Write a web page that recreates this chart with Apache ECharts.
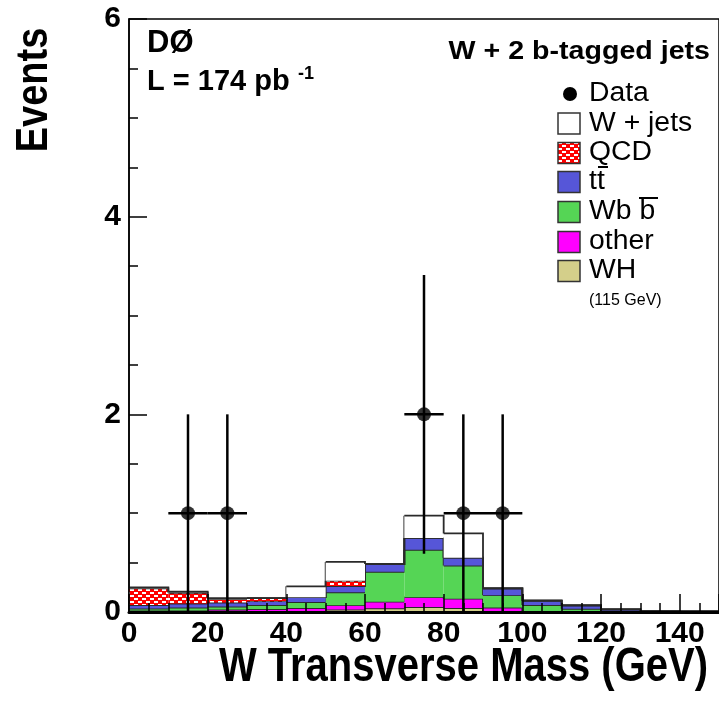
<!DOCTYPE html>
<html><head><meta charset="utf-8">
<script src="https://cdn.jsdelivr.net/npm/echarts@6/dist/echarts.min.js"></script>
<style>html,body{margin:0;padding:0;background:#fff}#c{width:719px;height:708px}</style>
</head><body><div id="c"></div>
<script>
// ---- data (W transverse mass, 10 GeV bins) ----
const binEdges = [0,10,20,30,40,50,60,70,80,90,100,110,120,130,140,150];
const whVals    = [0.005,0.005,0.01,0.01,0.01,0.025,0.037,0.05,0.04,0.01,0.0,0.0,0.0,0.0,0.0];
const otherVals = [0.01,0.01,0.015,0.02,0.03,0.044,0.067,0.10,0.095,0.035,0.005,0.003,0.0,0.0,0.0];
const wbbVals   = [0.02,0.03,0.03,0.04,0.06,0.13,0.303,0.48,0.335,0.125,0.065,0.03,0.01,0.005,0.003];
const ttVals    = [0.035,0.04,0.04,0.04,0.05,0.064,0.078,0.12,0.08,0.07,0.045,0.035,0.017,0.005,0.002];
const qcdVals   = [0.17,0.11,0.035,0.03,0.0,0.054,0.0,0.0,0.0,0.0,0.0,0.0,0.0,0.0,0.0];
const wjetsVals = [0.01,0.01,0.01,0.0,0.11,0.19,0.0,0.225,0.245,0.0,0.0,0.0,0.0,0.0,0.0];

const dataX       = [15,25,75,85,95];
const dataY       = [1,1,2,1,1];
const dataErrLow  = [1,1,1.41,1,1];
const dataErrHigh = [1,1,1.41,1,1];
const dataXErr    = [5,5,5,5,5];

const xTickInterval = 20;
const yTickInterval = 2;

const legendNames = ['Data','W + jets','QCD','tt','Wb b','other','WH'];
const legendNote = '(115 GeV)';

// ---- styles ----
const FONT = '"Liberation Sans", Arial, Helvetica, sans-serif';
const colWjets = '#ffffff', colTT = '#5656d8', colWbb = '#55d555', colOther = '#ff00ff', colWH = '#d4cf8a';

function brickPattern(){
  const c = document.createElement('canvas'); c.width = 8; c.height = 6;
  const g = c.getContext('2d');
  g.fillStyle = '#ff0000'; g.fillRect(0,0,8,6);
  g.fillStyle = '#ffffff';
  g.fillRect(2,1,4,2);
  g.fillRect(6,4,2,2); g.fillRect(0,4,2,2);
  return c;
}
const brick = brickPattern();
const colQCD = {image: brick, repeat: 'repeat'};

// stacked components, bottom to top
const comps = [
  {name:'WH', vals:whVals, fill:colWH},
  {name:'other', vals:otherVals, fill:colOther},
  {name:'Wbb', vals:wbbVals, fill:colWbb},
  {name:'tt', vals:ttVals, fill:colTT},
  {name:'QCD', vals:qcdVals, fill:colQCD},
  {name:'W + jets', vals:wjetsVals, fill:colWjets}
];
const nBins = binEdges.length - 1;
let base = new Array(nBins).fill(0);
const histSeries = comps.map((c, k) => {
  const top = base.map((b,i)=> b + c.vals[i]);
  const rows = [];
  for (let i = 0; i < nBins; i++) {
    const nextTop = i < nBins-1 ? top[i+1] : top[i];
    rows.push([binEdges[i], binEdges[i+1], base[i], top[i], nextTop]);
  }
  base = top;
  const fill = c.fill;
  return {
    name:c.name, type:'custom', z:2+k*0.01, silent:true, data:rows,
    encode:{x:[0,1], y:[2,3]},
    renderItem:function(params, api){
      const x0 = api.value(0), x1 = api.value(1), b = api.value(2), t = api.value(3), nt = api.value(4);
      const p0 = api.coord([x0, b]), p1 = api.coord([x1, t]), pn = api.coord([x1, nt]);
      const children = [];
      if (t > b) {
        children.push({type:'rect', shape:{x:p0[0], y:p1[1], width:p1[0]-p0[0], height:p0[1]-p1[1]}, style:{fill:fill}});
      }
      children.push({type:'polyline', shape:{points:[[p0[0], p1[1]], [p1[0], p1[1]], [pn[0], pn[1]]]}, style:{stroke:'#2a2a2a', lineWidth:1.8, fill:null}});
      return {type:'group', children};
    }
  };
});

const chart = echarts.init(document.getElementById('c'), null, {renderer:'canvas'});
const pointData = dataX.map((x,i)=>[x, dataY[i], dataErrLow[i], dataErrHigh[i], dataXErr[i]]);

const legendRows = [94, 123.5, 153, 182, 212, 242, 271];
const legendFills = [null, colWjets, colQCD, colTT, colWbb, colOther, colWH];
const graphics = [];
const G = (o) => { o.z = 100; graphics.push(o); };
legendNames.forEach((n,i)=>{
  const cy = legendRows[i];
  if (i === 0) {
    G({type:'circle', shape:{cx:570, cy:cy, r:7}, style:{fill:'#000'}});
  } else {
    G({type:'rect', shape:{x:558, y:cy-10.5, width:22, height:21}, style:{fill:legendFills[i], stroke:'#333', lineWidth:1.5}});
  }
  G({type:'text', x:589, y:cy, scaleX:1.05, style:{text:n, font:'normal 27px '+FONT, fill:'#000', textAlign:'left', textVerticalAlign:'middle'}});
});
G({type:'text', x:589, y:301, style:{text:legendNote, font:'normal 16px '+FONT, fill:'#000', textAlign:'left', textVerticalAlign:'middle'}});
// overbars of tt and bb
G({type:'line', shape:{x1:598, y1:167, x2:608, y2:167}, style:{stroke:'#000', lineWidth:2}});
G({type:'line', shape:{x1:639, y1:198, x2:658, y2:198}, style:{stroke:'#000', lineWidth:2}});
// labels
G({type:'text', x:147, y:43, style:{text:'DØ', font:'bold 31px '+FONT, fill:'#000', textAlign:'left', textVerticalAlign:'middle'}});
G({type:'text', x:147, y:82, style:{text:'L = 174 pb', font:'bold 29px '+FONT, fill:'#000', textAlign:'left', textVerticalAlign:'middle'}});
G({type:'text', x:298, y:74, style:{text:'-1', font:'bold 18px '+FONT, fill:'#000', textAlign:'left', textVerticalAlign:'middle'}});
G({type:'text', x:710, y:52, scaleX:1.1, style:{text:'W + 2 b-tagged jets', font:'bold 26px '+FONT, fill:'#000', textAlign:'right', textVerticalAlign:'middle'}});
// axis titles
G({type:'text', x:708, y:668, scaleY:1.2, style:{text:'W Transverse Mass (GeV)', font:'bold 40px '+FONT, fill:'#000', textAlign:'right', textVerticalAlign:'middle'}});
G({type:'text', x:35, y:90, rotation:Math.PI/2, scaleY:1.15, style:{text:'Events', font:'bold 38px '+FONT, fill:'#000', textAlign:'center', textVerticalAlign:'middle'}});

const option = {
  animation:false,
  backgroundColor:'#ffffff',
  grid:{left:129, top:19, right:-1, bottom:96, show:true, borderColor:'#000', borderWidth:1.5, backgroundColor:'transparent'},
  xAxis:{
    type:'value', min:0, max:150, interval:xTickInterval, z:10,
    axisLine:{show:true, onZero:false, lineStyle:{color:'#000', width:3}},
    axisTick:{show:true, inside:true, length:18, lineStyle:{color:'#000', width:1.5}},
    minorTick:{show:true, splitNumber:4, length:9, lineStyle:{color:'#000', width:1.5}},
    splitLine:{show:false},
    axisLabel:{color:'#000', fontFamily:FONT, fontWeight:'bold', fontSize:30, margin:7, showMaxLabel:false}
  },
  yAxis:{
    type:'value', min:0, max:6, interval:yTickInterval, z:10,
    axisLine:{show:true, lineStyle:{color:'#000', width:1.5}},
    axisTick:{show:true, inside:true, length:18, lineStyle:{color:'#000', width:1.5}},
    minorTick:{show:true, splitNumber:4, length:9, lineStyle:{color:'#000', width:1.5}},
    splitLine:{show:false},
    axisLabel:{color:'#000', fontFamily:FONT, fontWeight:'bold', fontSize:30, margin:8}
  },
  series: histSeries.concat([
    {
      name:'Data errors', type:'custom', z:5, data:pointData, silent:true,
      encode:{x:0, y:1},
      renderItem:function(params, api){
        const x = api.value(0), y = api.value(1), lo = api.value(2), hi = api.value(3), xe = api.value(4);
        const pb = api.coord([x, y-lo]), pt = api.coord([x, y+hi]);
        const pl = api.coord([x-xe, y]), pr = api.coord([x+xe, y]);
        return {type:'group', children:[
          {type:'line', shape:{x1:pb[0], y1:pb[1], x2:pt[0], y2:pt[1]}, style:{stroke:'#000', lineWidth:2.5}},
          {type:'line', shape:{x1:pl[0], y1:pl[1], x2:pr[0], y2:pr[1]}, style:{stroke:'#000', lineWidth:2.5}}
        ]};
      }
    },
    {
      name:'Data', type:'scatter', z:6, symbol:'circle', symbolSize:14,
      itemStyle:{color:'#000'}, data:dataX.map((x,i)=>[x, dataY[i]])
    }
  ]),
  graphic:graphics
};
chart.setOption(option);
</script>
</body></html>
